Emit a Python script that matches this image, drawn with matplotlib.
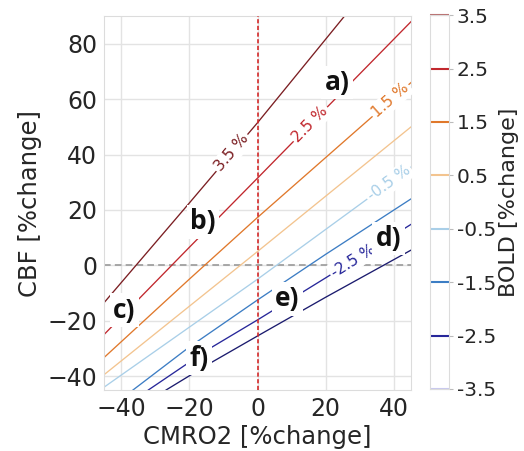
import numpy as np
import matplotlib
matplotlib.use('Agg')
import matplotlib.pyplot as plt

# BOLD iso-lines: CMRO2 (x) vs CBF (y), both in %change
levels = [3.5, 2.5, 1.5, 0.5, -0.5, -1.5, -2.5, -3.5]
colors = ['#7b1e22', '#c1272d', '#e0782b', '#f3c48f', '#a9cfe8', '#3c7dc4', '#27279a', '#1b1b6e']
cbar_colors = ['#b97070', '#c1272d', '#e0782b', '#f3c48f', '#a9cfe8', '#3c7dc4', '#27279a', '#c8c8ee']

cmro2_p35 = [-45, -20, 0, 25.5]
cbf_p35 = [-13.5, 22.5, 51.5, 90]
cmro2_p25 = [-45, -20, 0, 45]
cbf_p25 = [-25, 6.5, 31.5, 88]
cmro2_p15 = [-45, -20, 0, 45]
cbf_p15 = [-33.3, -5, 17.3, 66]
cmro2_p05 = [-45, 0, 45]
cbf_p05 = [-39.5, 5, 50]
cmro2_m05 = [-45, 0, 45]
cbf_m05 = [-44, -5, 35.5]
cmro2_m15 = [-36.5, -20, 0, 20, 45]
cbf_m15 = [-45, -29.5, -12.5, 4, 24]
cmro2_m25 = [-32, -14, 0, 20, 45]
cbf_m25 = [-45, -30, -19.7, -4.5, 14.8]
cmro2_m35 = [-26.8, -14, 0, 20, 45]
cbf_m35 = [-45, -35.4, -25.5, -11.5, 5.5]

lines_x = [cmro2_p35, cmro2_p25, cmro2_p15, cmro2_p05, cmro2_m05, cmro2_m15, cmro2_m25, cmro2_m35]
lines_y = [cbf_p35, cbf_p25, cbf_p15, cbf_p05, cbf_m05, cbf_m15, cbf_m25, cbf_m35]

# inline contour labels
label_levels = [3.5, 2.5, 1.5, -0.5, -2.5]
label_x = [-7.5, 15.5, 39, 38.5, 28]

# panel letters
letters = ['a)', 'b)', 'c)', 'd)', 'e)', 'f)']
letter_x = [23.4, -16, -39, 38.4, 8.7, -17.2]
letter_y = [66, 15.8, -16.2, 9.7, -12, -33.5]

plt.rcParams['font.family'] = 'DejaVu Sans'
txt = '#262626'

fig = plt.figure(figsize=(5.24, 4.51), dpi=100)
ax = fig.add_axes([0.1985, 0.1353, 0.5859, 0.829])
cax = fig.add_axes([0.8206, 0.1375, 0.0363, 0.829])

ax.set_xlim(-45, 45)
ax.set_ylim(-45, 90)
ax.set_xticks([-40, -20, 0, 20, 40])
ax.set_yticks([-40, -20, 0, 20, 40, 60, 80])
ax.grid(color='#e3e3e3', lw=1.0)
ax.set_axisbelow(True)
for s in ax.spines.values():
    s.set_color('#dcdcdc')
ax.tick_params(length=0, labelsize=17, labelcolor=txt, pad=5)
ax.set_xlabel('CMRO2 [%change]', fontsize=17.5, color=txt, labelpad=3)
ax.set_ylabel('CBF [%change]', fontsize=17.5, color=txt, labelpad=4)

ax.axvline(0, color='#d42a2a', lw=1.2, ls=(0, (2.5, 1.5)), zorder=4)
ax.axhline(0, color='#9a9a9a', lw=1.2, ls=(0, (4, 2.5)), zorder=1.5)

for c, xs, ys in zip(colors, lines_x, lines_y):
    ax.plot(xs, ys, color=c, lw=0.95, zorder=2)

for lev, lx in zip(label_levels, label_x):
    i = levels.index(lev)
    xs, ys = lines_x[i], lines_y[i]
    ly = np.interp(lx, xs, ys)
    slope = (np.interp(lx + 1, xs, ys) - np.interp(lx - 1, xs, ys)) / 2
    ang = np.degrees(np.arctan(slope))
    ax.text(lx, ly, f'{lev:.1f} %', color=colors[i], fontsize=11,
            rotation=ang, rotation_mode='anchor', transform_rotates_text=True,
            ha='center', va='center',
            bbox=dict(fc='white', ec='none', pad=1.5), zorder=3)

for s, lx, ly in zip(letters, letter_x, letter_y):
    ax.text(lx, ly, s, fontsize=19, fontweight='bold', family='Open Sans',
            color='#111111', ha='center', va='center',
            bbox=dict(fc='white', ec='none', pad=2.5), zorder=5)

# colorbar made of the level lines
cax.set_xlim(0, 1)
cax.set_ylim(-3.5, 3.5)
cax.hlines(levels, 0, 1, colors=cbar_colors, lw=1.5, clip_on=False)
cax.set_xticks([])
cax.yaxis.tick_right()
cax.set_yticks(levels)
cax.set_yticklabels([f'{v:.1f}' for v in levels])
cax.tick_params(axis='y', length=3, color='#bbbbbb', labelsize=14.5, labelcolor=txt, pad=2.5)
for s in cax.spines.values():
    s.set_color('#dcdcdc')
cax.yaxis.set_label_position('right')
cax.set_ylabel('BOLD [%change]', fontsize=16, color=txt, labelpad=2)

fig.savefig('out.png', dpi=100)
